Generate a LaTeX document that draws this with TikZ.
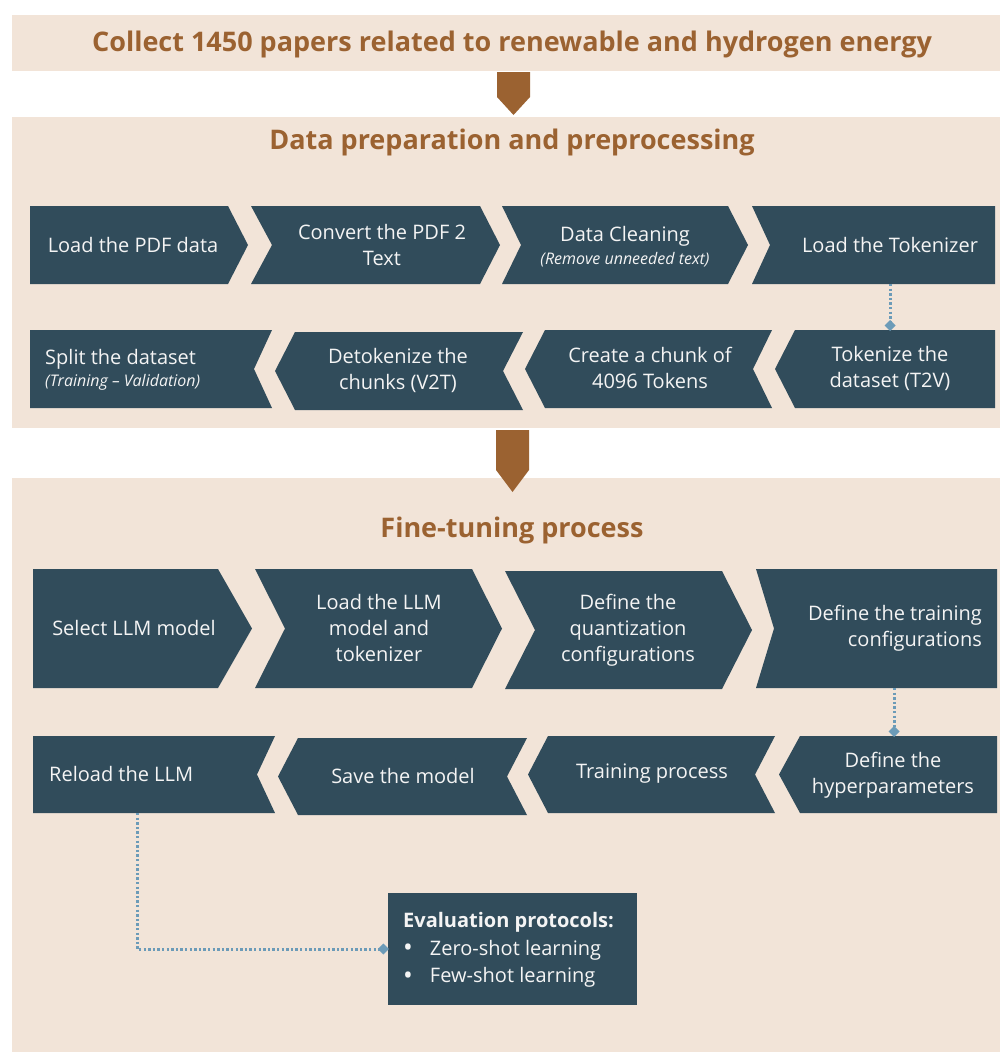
\documentclass[tikz,border=0pt]{standalone}
\usepackage{fontspec}
\setmainfont{Open Sans}
\usetikzlibrary{arrows.meta}
\definecolor{panel}{HTML}{F2E4D8}
\definecolor{slate}{HTML}{314C5B}
\definecolor{brn}{HTML}{9B6231}
\definecolor{dotc}{HTML}{6C9BB8}
\definecolor{txtw}{HTML}{F4F4F4}
\newcommand\chevR[6]{\fill[slate] (#1,#5) -- (#2,#5) -- (#3,{(#5+#6)/2}) -- (#2,#6) -- (#1,#6) -- ({#1+#4},{(#5+#6)/2}) -- cycle;}
\newcommand\chevL[6]{\fill[slate] (#1,{(#5+#6)/2}) -- (#2,#5) -- (#3,#5) -- ({#3-#4},{(#5+#6)/2}) -- (#3,#6) -- (#2,#6) -- cycle;}
\newcommand\bigbul{{\fontsize{26}{20}\selectfont\raisebox{-1.5pt}{\textbullet}}}
\begin{document}
\begin{tikzpicture}[x=1pt,y=-1pt,
  lbl/.style={text=txtw,font=\fontsize{20}{26}\selectfont,align=center,inner sep=0pt},
  sub/.style={text=txtw,font=\fontsize{16}{18}\selectfont\itshape,inner sep=0pt},
  ttl/.style={text=brn,font=\fontsize{27}{30}\selectfont\bfseries,inner sep=0pt},
  dotline/.style={dotc,line width=3pt,dash pattern=on 2.4pt off 2.2pt,-{Diamond[length=11pt,width=11pt,sep=-1pt]}}]
\useasboundingbox (0,0) rectangle (1000,1055);
\fill[white] (0,0) rectangle (1000,1055);
% panels
\fill[panel] (12,15) rectangle (1000,71);
\fill[panel] (12,117) rectangle (1000,428);
\fill[panel] (12,478) rectangle (1000,1052);
% block arrows
\fill[brn] (497,72) -- (530,72) -- (530,97) -- (513.5,115) -- (497,97) -- cycle;
\fill[brn] (496,430) -- (529,430) -- (529,470) -- (512.5,492) -- (496,470) -- cycle;
% titles
\node[ttl] (t1) at (512,44) {Collect 1450 papers related to renewable and hydrogen energy};
\node[ttl] (t2) at (512,142) {Data preparation and preprocessing};
\node[ttl] (t3) at (512,530) {Fine-tuning process};
% row 1
\chevR{30}{228}{248}{0}{206}{284}
\chevR{251}{480}{500}{21}{206}{284}
\chevR{502}{728}{748}{19}{206}{284}
\chevR{752}{995}{995}{18}{206}{284}
\node[lbl] (a1) at (133,245) {Load the PDF data};
\node[lbl] (a2) at (382,245) {Convert the PDF 2\\Text};
\node[lbl] (a3) at (625,236) {Data Cleaning};
\node[sub] (a3s) at (625,260) {(Remove unneeded text)};
\node[lbl] (a4) at (890,245) {Load the Tokenizer};
% row 2
\chevL{30}{30}{272}{18}{330}{408}
\chevL{275}{295}{523}{20}{332}{410}
\chevL{525}{545}{772}{19}{330}{408}
\chevL{775}{795}{995}{0}{330}{408}
\node[lbl,anchor=west] (b1) at (45,359) {Split the dataset};
\node[sub,anchor=west] (b1s) at (45,382) {(Training -- Validation)};
\node[lbl] (b2) at (398,370) {Detokenize the\\chunks (V2T)};
\node[lbl] (b3) at (650,368) {Create a chunk of\\4096 Tokens};
\node[lbl] (b4) at (890,368) {Tokenize the\\dataset (T2V)};
\coordinate (a4b) at (890,284);
\coordinate (b4t) at (890,330);
\draw[dotline] (a4b) -- (b4t);
% row 3
\chevR{33}{218}{252}{0}{569}{688}
\chevR{255}{472}{502}{30}{569}{688}
\chevR{505}{722}{752}{30}{571}{689}
\chevR{756}{997}{997}{18}{569}{688}
\node[lbl] (c1) at (134,628) {Select LLM model};
\node[lbl] (c2) at (379,628) {Load the LLM\\model and\\tokenizer};
\node[lbl] (c3) at (628,630) {Define the\\quantization\\configurations};
\node[lbl,align=right,anchor=east] (c4) at (982,628) {Define the training\\configurations};
% row 4
\chevL{33}{33}{275}{18}{736}{813}
\chevL{278}{298}{527}{20}{738}{815}
\chevL{528}{548}{775}{20}{736}{813}
\chevL{779}{800}{997}{0}{736}{813}
\node[lbl,anchor=west] (d1) at (49,774) {Reload the LLM};
\node[lbl] (d2) at (403,776) {Save the model};
\node[lbl] (d3) at (652,774) {Training process};
\node[lbl] (d4) at (893,775) {Define the\\hyperparameters};
\coordinate (c4b) at (894,688);
\coordinate (d4t) at (894,736);
\draw[dotline] (c4b) -- (d4t);
% evaluation box
\node[fill=slate,minimum width=249pt,minimum height=112pt,inner sep=0pt] (ev) at (512.5,949) {};
\node[anchor=west,text=txtw,inner sep=0pt,font=\fontsize{20}{27.5}\selectfont] (evt) at (403,949.5)
  {\begin{tabular}{@{}l@{\hspace{17pt}}l@{}}\multicolumn{2}{@{}l}{\textbf{Evaluation protocols:}}\\ \bigbul & Zero-shot learning\\ \bigbul & Few-shot learning\end{tabular}};
\coordinate (d1b) at (137,813);
\draw[dotline] (d1b) |- (ev.west);
\end{tikzpicture}
\end{document}
